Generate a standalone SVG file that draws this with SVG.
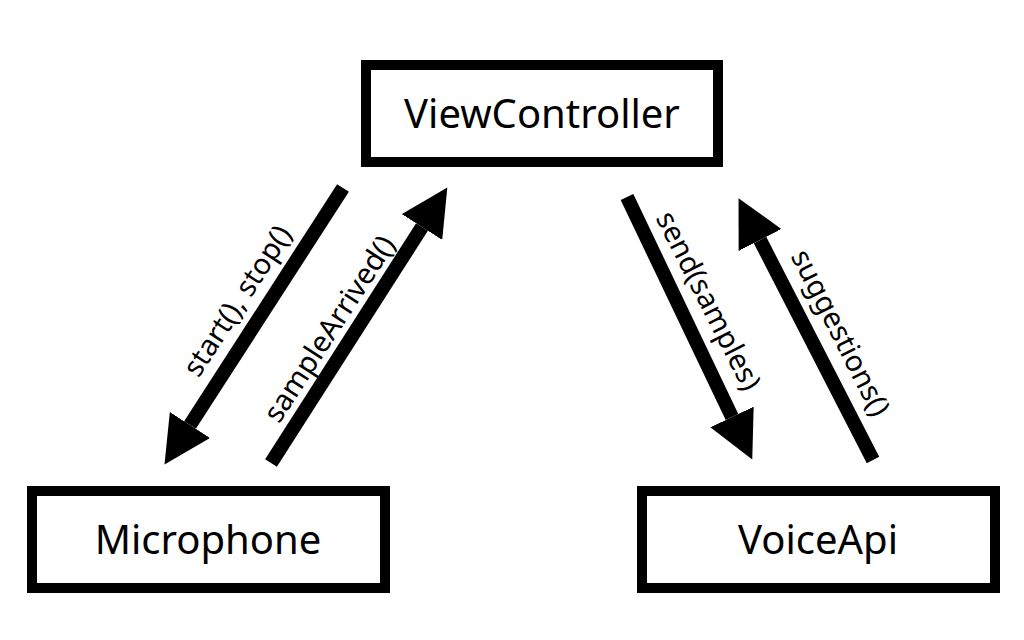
<svg xmlns="http://www.w3.org/2000/svg" width="1024" height="640" viewBox="0 0 1024 640">
<style>
.box{fill:#fff;stroke:#000;stroke-width:10}
.lbl{font-family:"Source Sans Pro","Noto Sans","Liberation Sans",sans-serif;font-size:40px;fill:#000;text-anchor:middle}
.elbl{font-family:"Source Sans Pro","Noto Sans","Liberation Sans",sans-serif;font-size:29px;fill:#000;text-anchor:middle;dominant-baseline:central}
.edge{stroke:#000;stroke-width:14;fill:none;marker-end:url(#ah)}
</style>
<defs>
<marker id="ah" markerUnits="userSpaceOnUse" markerWidth="48" markerHeight="48" refX="0" refY="24" orient="auto">
<path d="M0,0 L47,24 L0,48 Z" fill="#000"/>
</marker>
</defs>
<rect width="1024" height="640" fill="#fff"/>
<g id="edges">
<line class="edge" x1="343" y1="188" x2="190" y2="425"/>
<line class="edge" x1="271" y1="463" x2="422" y2="227"/>
<line class="edge" x1="627" y1="197" x2="732" y2="417"/>
<line class="edge" x1="873" y1="460" x2="760" y2="240"/>
<text class="elbl" transform="translate(236,300) rotate(-57)">start(), stop()</text>
<text class="elbl" transform="translate(328,328) rotate(-57)">sampleArrived()</text>
<text class="elbl" transform="translate(710,300) rotate(63)">send(samples)</text>
<text class="elbl" transform="translate(842,332) rotate(63)">suggestions()</text>
</g>
<g id="ViewController">
<rect class="box" x="366" y="65" width="352" height="97"/>
<text class="lbl" x="542" y="128">ViewController</text>
</g>
<g id="Microphone">
<rect class="box" x="32" y="491" width="353" height="97"/>
<text class="lbl" x="208" y="554">Microphone</text>
</g>
<g id="VoiceApi">
<rect class="box" x="642" y="491" width="353" height="97"/>
<text class="lbl" x="818" y="554">VoiceApi</text>
</g>
</svg>
